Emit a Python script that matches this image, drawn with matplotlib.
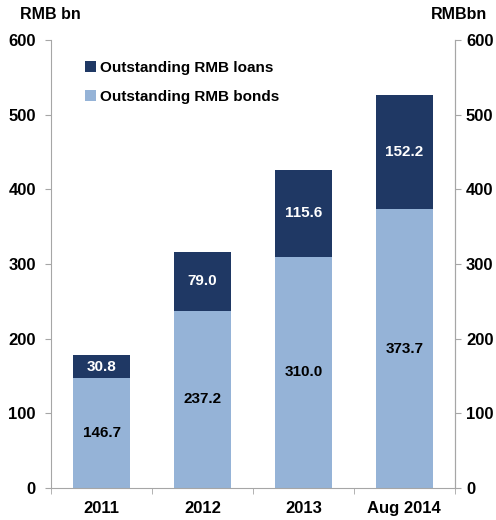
import matplotlib.pyplot as plt
import numpy as np

plt.rcParams['font.family'] = ['Liberation Sans', 'DejaVu Sans']
plt.rcParams['font.weight'] = 'bold'

categories = ['2011', '2012', '2013', 'Aug 2014']
bonds = [146.7, 237.2, 310.0, 373.7]
loans = [30.8, 79.0, 115.6, 152.2]

c_bonds = '#95b3d7'
c_loans = '#1f3864'
grey = '#a6a6a6'

fig = plt.figure(figsize=(4.96, 5.20), dpi=100)
ax = fig.add_axes([0.103, 0.0615, 0.814, 0.8615])

x = np.arange(len(categories))
w = 0.56
ax.bar(x, bonds, w, color=c_bonds, label='Outstanding RMB bonds')
ax.bar(x, loans, w, bottom=bonds, color=c_loans, label='Outstanding RMB loans')

for i in range(len(x)):
    ax.text(x[i], bonds[i] / 2, f'{bonds[i]:.1f}', ha='center', va='center',
            fontsize=11, fontweight='bold', color='black')
    ax.text(x[i], bonds[i] + loans[i] / 2, f'{loans[i]:.1f}', ha='center', va='center',
            fontsize=11, fontweight='bold', color='white')

ax.set_xlim(-0.5, 3.5)
ax.set_ylim(0, 600)
ax.set_yticks(range(0, 601, 100))
ax.set_xticks(x)
ax.set_xticklabels(categories, fontsize=12, fontweight='bold')
ax.set_xticks([-0.5, 0.5, 1.5, 2.5, 3.5], minor=True)
ax.tick_params(axis='x', which='major', length=0, pad=9)
ax.tick_params(axis='x', which='minor', length=4, color=grey, direction='out')
ax.tick_params(axis='y', length=4, color=grey, labelsize=12, pad=7)

ax.spines['top'].set_visible(False)
for s in ['left', 'bottom', 'right']:
    ax.spines[s].set_color(grey)

ax2 = ax.twinx()
ax2.set_ylim(0, 600)
ax2.set_yticks(range(0, 601, 100))
ax2.tick_params(axis='y', length=4, color=grey, labelsize=12, pad=4)
for s in ['top', 'left', 'bottom']:
    ax2.spines[s].set_visible(False)
ax2.spines['right'].set_color(grey)
for lab in ax.get_yticklabels() + ax2.get_yticklabels():
    lab.set_fontweight('bold')

h, l = ax.get_legend_handles_labels()
ax.legend(h[::-1], l[::-1], loc='upper left', bbox_to_anchor=(0.05, 0.985),
          frameon=False, fontsize=11, handlelength=0.7, handleheight=0.7,
          handletextpad=0.3, labelspacing=1.0)

fig.text(0.04, 0.958, 'RMB bn', fontsize=11.5, fontweight='bold', va='bottom')
fig.text(0.982, 0.958, 'RMBbn', fontsize=11.5, fontweight='bold', va='bottom', ha='right')

fig.savefig('out.png', dpi=100)
